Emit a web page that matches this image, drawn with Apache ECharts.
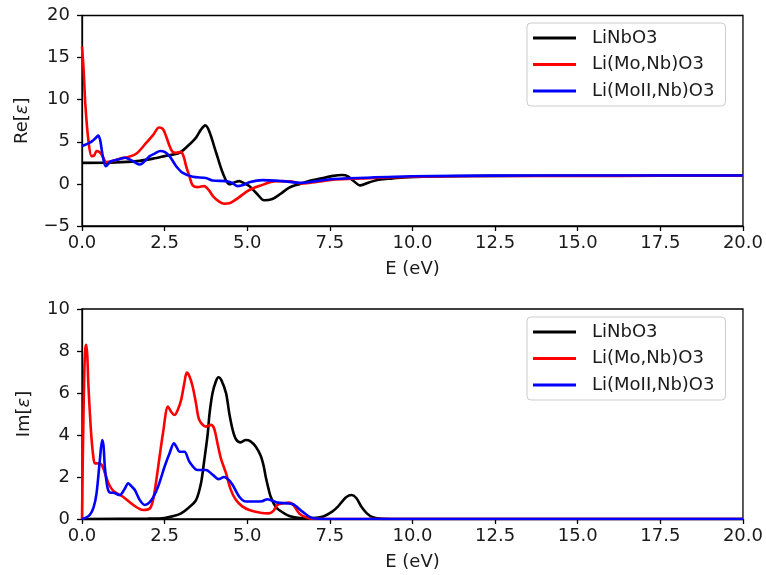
<!DOCTYPE html>
<html>
<head>
<meta charset="utf-8">
<script src="https://cdn.jsdelivr.net/npm/echarts@6/dist/echarts.min.js"></script>
<style>html,body{margin:0;padding:0;background:#fff}#c{width:766px;height:575px}</style>
</head>
<body>
<div id="c"></div>
<script>
// ---- Data ----
const seriesNames = ['LiNbO3', 'Li(Mo,Nb)O3', 'Li(MoII,Nb)O3'];
const xTicks = [0, 2.5, 5, 7.5, 10, 12.5, 15, 17.5, 20];

// Re[eps]
const reE_LiNbO3 = [0, 1, 1.65, 2.15, 2.5, 2.95, 3.2, 3.45, 3.6, 3.73, 3.85, 4.06, 4.26, 4.46, 4.62, 4.76, 4.9, 5.06, 5.3, 5.51, 5.76, 6.0, 6.27, 6.6, 6.87, 7.3, 7.6, 7.87, 8.05, 8.2, 8.42, 8.7, 8.98, 9.4, 9.88, 11, 12.5, 15, 17.5, 20];
const reV_LiNbO3 = [2.5, 2.55, 2.7, 3.0, 3.3, 3.7, 4.5, 5.5, 6.45, 6.95, 6.25, 3.7, 1.3, -0.05, 0.2, 0.33, 0.1, -0.26, -1.2, -1.95, -1.8, -1.2, -0.45, 0.0, 0.33, 0.7, 0.95, 1.05, 0.9, 0.4, -0.18, 0.2, 0.5, 0.65, 0.8, 0.9, 0.95, 0.97, 0.98, 1.0];
const reE_LiMoNb = [0, 0.05, 0.1, 0.19, 0.29, 0.37, 0.44, 0.52, 0.59, 0.74, 0.9, 1.14, 1.4, 1.65, 1.95, 2.15, 2.33, 2.45, 2.55, 2.65, 2.74, 2.85, 2.99, 3.08, 3.15, 3.25, 3.35, 3.5, 3.7, 3.85, 3.96, 4.15, 4.31, 4.45, 4.56, 4.75, 4.96, 5.16, 5.36, 5.86, 6.3, 6.65, 7.2, 7.65, 8.45, 10, 12.5, 15, 17.5, 20];
const reV_LiMoNb = [16.3, 13.5, 9.5, 5.3, 3.3, 3.4, 3.9, 3.8, 3.5, 2.6, 2.7, 3.0, 3.2, 3.6, 4.9, 5.8, 6.7, 6.5, 5.6, 4.5, 3.8, 3.7, 3.8, 3.2, 2.1, 0.9, -0.18, -0.38, -0.26, -0.8, -1.44, -2.1, -2.35, -2.3, -2.1, -1.6, -0.97, -0.55, -0.26, 0.33, 0.3, 0.05, 0.3, 0.53, 0.65, 0.85, 0.93, 0.95, 0.96, 0.97];
const reE_LiMoIINb = [0, 0.24, 0.4, 0.49, 0.55, 0.62, 0.72, 0.88, 1.1, 1.3, 1.5, 1.75, 2.05, 2.2, 2.37, 2.5, 2.65, 2.85, 3.05, 3.35, 3.75, 3.95, 4.36, 4.55, 4.71, 4.9, 5.06, 5.46, 6.06, 6.65, 7.45, 8.6, 10, 12.5, 15, 17.5, 20];
const reV_LiMoIINb = [4.5, 4.9, 5.4, 5.75, 5.2, 3.5, 2.1, 2.7, 2.9, 3.1, 2.8, 2.3, 3.3, 3.6, 3.9, 3.8, 3.3, 2.1, 1.3, 0.85, 0.7, 0.4, 0.33, 0.1, -0.26, -0.1, 0.2, 0.45, 0.33, 0.13, 0.53, 0.73, 0.9, 0.98, 1.0, 1.0, 1.0];

// Im[eps]
const imE_LiNbO3 = [0, 2.0, 2.5, 2.8, 3.0, 3.2, 3.45, 3.6, 3.7, 3.8, 3.86, 3.95, 4.05, 4.13, 4.22, 4.36, 4.46, 4.56, 4.66, 4.8, 4.96, 5.1, 5.26, 5.41, 5.5, 5.56, 5.65, 5.71, 5.85, 5.96, 6.27, 6.6, 7.0, 7.3, 7.57, 7.75, 7.87, 8.0, 8.15, 8.3, 8.45, 8.62, 8.8, 9.0, 9.5, 10, 20];
const imV_LiNbO3 = [0, 0.02, 0.05, 0.15, 0.27, 0.5, 0.9, 1.7, 2.8, 4.0, 5.03, 6.0, 6.55, 6.75, 6.6, 5.98, 5.0, 4.24, 3.8, 3.65, 3.76, 3.7, 3.44, 3.0, 2.5, 2.0, 1.4, 1.06, 0.6, 0.43, 0.14, 0.05, 0.05, 0.12, 0.35, 0.6, 0.83, 1.05, 1.14, 1.0, 0.6, 0.27, 0.08, 0.02, 0, 0, 0];
const imE_LiMoNb = [0, 0.03, 0.07, 0.1, 0.13, 0.16, 0.19, 0.24, 0.29, 0.34, 0.39, 0.49, 0.59, 0.69, 0.8, 0.94, 1.24, 1.55, 1.85, 2.05, 2.15, 2.25, 2.35, 2.45, 2.6, 2.7, 2.8, 2.9, 3.0, 3.1, 3.17, 3.25, 3.35, 3.45, 3.55, 3.75, 3.9, 4.0, 4.1, 4.2, 4.36, 4.5, 4.66, 4.85, 5.06, 5.4, 5.66, 5.8, 5.91, 6.1, 6.27, 6.4, 6.57, 6.75, 6.95, 7.5, 10, 20];
const imV_LiMoNb = [0, 3.5, 7.0, 8.1, 8.3, 7.8, 6.5, 5.0, 3.8, 3.0, 2.65, 2.65, 2.6, 2.2, 1.7, 1.35, 1.06, 0.67, 0.43, 0.5, 0.9, 1.86, 3.0, 4.08, 5.35, 5.1, 4.95, 5.2, 5.67, 6.5, 6.97, 6.8, 6.3, 5.5, 4.71, 4.4, 4.48, 4.3, 3.6, 2.9, 2.17, 1.4, 0.9, 0.6, 0.43, 0.3, 0.27, 0.4, 0.67, 0.75, 0.78, 0.65, 0.27, 0.1, 0.02, 0, 0, 0];
const imE_LiMoIINb = [0, 0.1, 0.24, 0.35, 0.44, 0.54, 0.61, 0.65, 0.69, 0.74, 0.79, 0.87, 0.94, 1.14, 1.28, 1.4, 1.5, 1.6, 1.75, 1.9, 2.1, 2.3, 2.5, 2.65, 2.78, 2.87, 2.95, 3.1, 3.25, 3.5, 3.75, 3.96, 4.13, 4.3, 4.45, 4.56, 4.76, 4.96, 5.26, 5.45, 5.61, 5.91, 6.37, 6.67, 6.97, 7.5, 10, 20];
const imV_LiMoIINb = [0, 0.05, 0.2, 0.55, 1.22, 2.8, 3.76, 3.5, 2.5, 1.8, 1.38, 1.25, 1.25, 1.14, 1.4, 1.7, 1.55, 1.38, 0.9, 0.67, 0.9, 1.54, 2.5, 3.13, 3.6, 3.4, 3.2, 3.2, 2.73, 2.33, 2.33, 2.1, 1.9, 2.0, 1.85, 1.62, 1.06, 0.83, 0.83, 0.85, 0.94, 0.78, 0.71, 0.35, 0.05, 0, 0, 0];

const colors = ['#000000', '#ff0000', '#0000ff'];

// ---- Build ----
const zip = (a, b) => a.map((x, i) => [x, b[i]]);
const FONT = 'DejaVu Sans';
const FS = 18;
const TXT = '#1a1a1a';

function xAxis(gi) {
  return {
    type: 'value', gridIndex: gi, min: xTicks[0], max: xTicks[xTicks.length - 1], interval: xTicks[1] - xTicks[0],
    name: 'E (eV)', nameLocation: 'middle', nameGap: 34,
    nameTextStyle: { fontFamily: FONT, fontSize: FS, color: TXT },
    axisLine: { show: true, onZero: false, lineStyle: { color: '#000', width: 1.3 } },
    axisTick: { show: true, inside: false, length: 5, lineStyle: { color: '#000', width: 1.3 } },
    axisLabel: { margin: 8, fontFamily: FONT, fontSize: FS, color: TXT, formatter: v => v.toFixed(1) },
    splitLine: { show: false }
  };
}
function yAxis(gi, min, max, interval, name, gap) {
  return {
    type: 'value', gridIndex: gi, min, max, interval,
    name, nameLocation: 'middle', nameGap: gap,
    nameTextStyle: { fontFamily: FONT, fontSize: FS, color: TXT, rich: { i: { fontFamily: FONT, fontSize: FS, fontStyle: 'italic', color: TXT } } },
    axisLine: { show: true, onZero: false, lineStyle: { color: '#000', width: 1.3 } },
    axisTick: { show: true, inside: false, length: 5, lineStyle: { color: '#000', width: 1.3 } },
    axisLabel: { margin: 12, fontFamily: FONT, fontSize: FS, color: TXT, formatter: v => (v < 0 ? '\u2212' + Math.abs(v) : String(v)) },
    splitLine: { show: false }
  };
}
function legend(top) {
  return {
    left: 527, top, orient: 'vertical', data: seriesNames.map(n => ({ name: n, icon: 'rect' })),
    itemWidth: 43, itemHeight: 3, itemGap: 6.5,
    padding: [5, 11, 5, 6],
    backgroundColor: '#fff', borderColor: '#cccccc', borderWidth: 1, borderRadius: 4,
    textStyle: { fontFamily: FONT, fontSize: FS, color: TXT, lineHeight: 20, padding: [0, 0, 0, 11] },
    selectedMode: false
  };
}
function line(name, gi, data, ci) {
  return {
    type: 'line', name, xAxisIndex: gi, yAxisIndex: gi, data,
    showSymbol: false, symbol: 'none', smooth: 0.3,
    lineStyle: { color: colors[ci], width: 2.6 }, itemStyle: { color: colors[ci] },
    clip: true, z: 3 + ci
  };
}

const option = {
  animation: false,
  backgroundColor: '#fff',
  grid: [
    { left: 82, top: 15.5, width: 663, height: 210.5, show: true, borderColor: '#000', borderWidth: 1.3, backgroundColor: 'transparent' },
    { left: 82, top: 309, width: 663, height: 210, show: true, borderColor: '#000', borderWidth: 1.3, backgroundColor: 'transparent' }
  ],
  xAxis: [xAxis(0), xAxis(1)],
  yAxis: [
    yAxis(0, -5, 20, 5, 'Re[{i|ε}]', 51),
    yAxis(1, 0, 10, 2, 'Im[{i|ε}]', 48.5)
  ],
  legend: [legend(23), legend(317)],
  series: [
    line(seriesNames[0], 0, zip(reE_LiNbO3, reV_LiNbO3), 0),
    line(seriesNames[1], 0, zip(reE_LiMoNb, reV_LiMoNb), 1),
    line(seriesNames[2], 0, zip(reE_LiMoIINb, reV_LiMoIINb), 2),
    line(seriesNames[0], 1, zip(imE_LiNbO3, imV_LiNbO3), 0),
    line(seriesNames[1], 1, zip(imE_LiMoNb, imV_LiMoNb), 1),
    line(seriesNames[2], 1, zip(imE_LiMoIINb, imV_LiMoIINb), 2)
  ]
};
const chart = echarts.init(document.getElementById('c'), null, { renderer: 'canvas' });
chart.setOption(option);
</script>
</body>
</html>
